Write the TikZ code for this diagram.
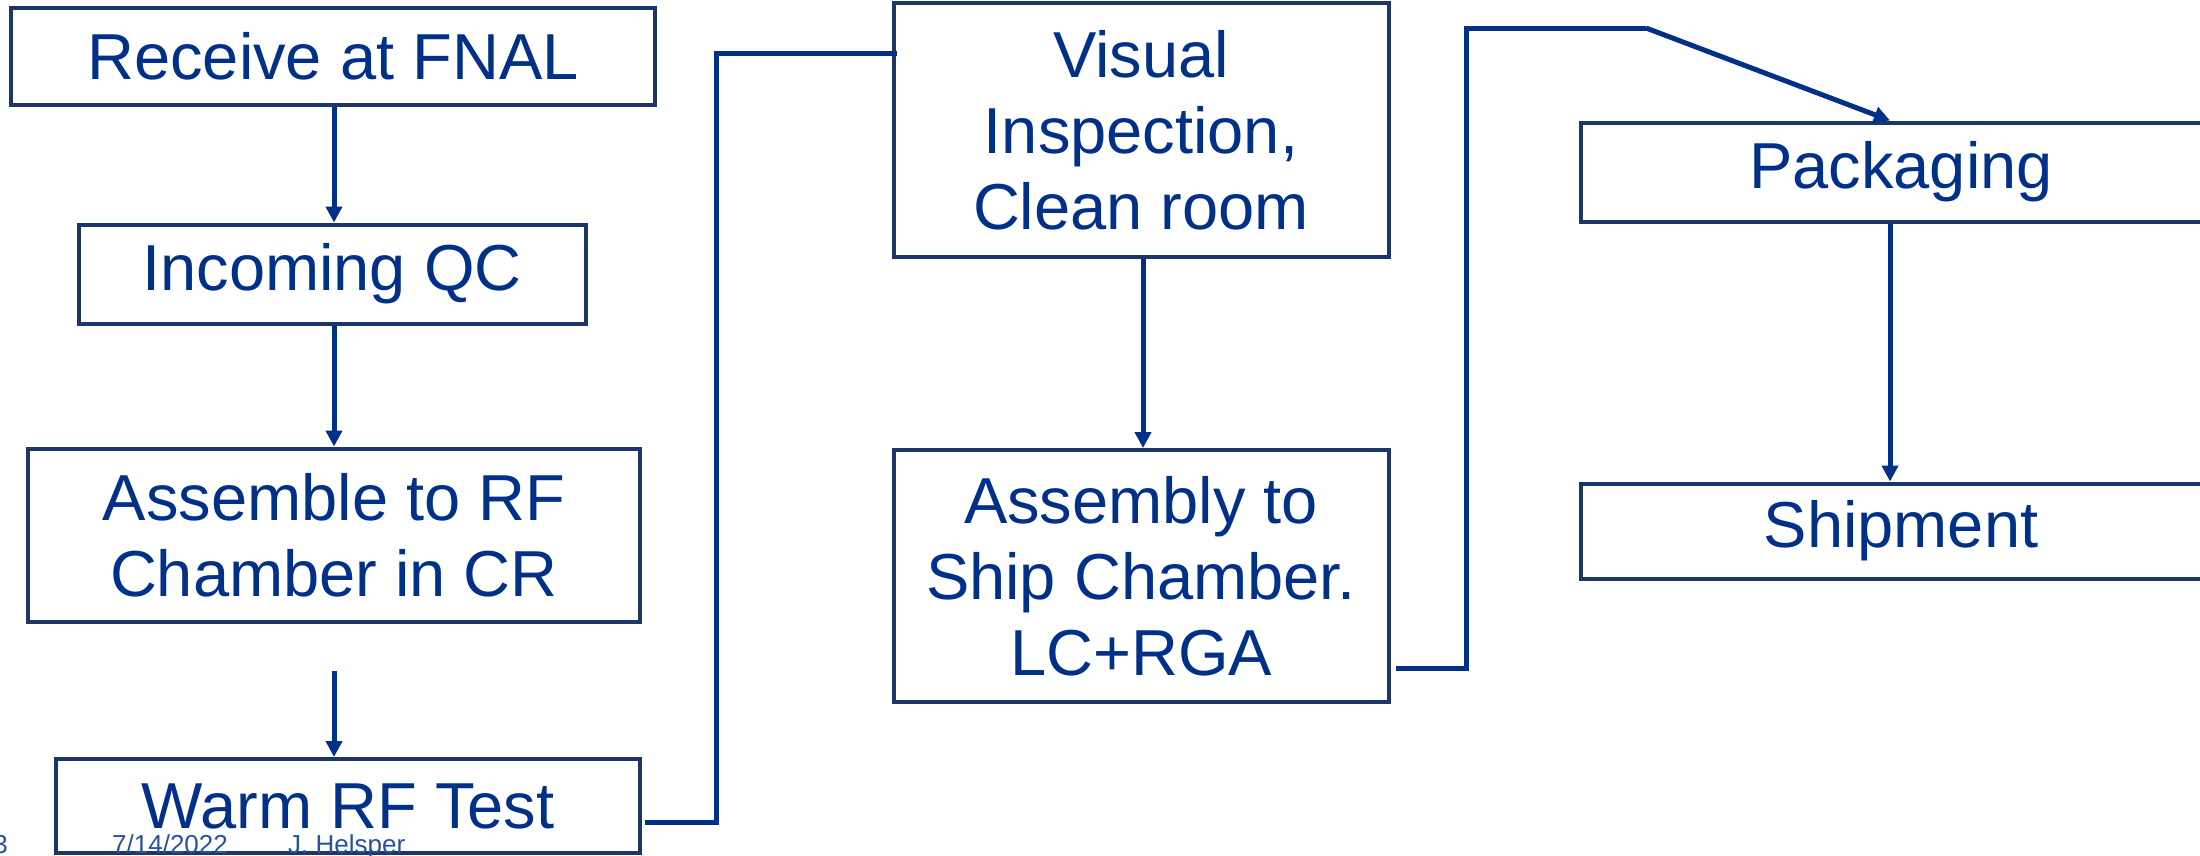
\documentclass[tikz,border=0pt]{standalone}
\usepackage{fontspec}
\setmainfont{Liberation Sans}
\usetikzlibrary{arrows.meta}
\definecolor{txtblue}{RGB}{0,48,135}
\definecolor{boxblue}{RGB}{28,54,104}
\definecolor{footblue}{RGB}{40,80,160}
\begin{document}
\begin{tikzpicture}[x=1pt,y=-1pt,
  stepbox/.style={draw=boxblue,line width=4pt,inner sep=0pt,align=center,
    text=txtblue,font=\fontsize{65}{76}\selectfont},
  conn/.style={draw=txtblue,line width=5pt},
  arr/.style={conn,-{Triangle[length=16pt,width=16pt]}},
  foot/.style={text=footblue,font=\fontsize{26}{30}\selectfont,inner sep=0pt}]
\useasboundingbox (0,0) rectangle (2200,855);
% left column
\node[stepbox,minimum width=644pt,minimum height=97pt] (b1) at (333,56) {Receive at FNAL};
\node[stepbox,minimum width=507pt,minimum height=99pt] (b2) at (332,274) {Incoming QC};
\node[stepbox,minimum width=612pt,minimum height=173pt] (b3) at (334,535) {Assemble to RF\\Chamber in CR};
\node[stepbox,minimum width=584pt,minimum height=94pt] (b4) at (348,806) {Warm RF Test};
% middle column
\node[stepbox,minimum width=495pt,minimum height=254pt] (b5) at (1141,130) {Visual\\Inspection,\\Clean room};
\node[stepbox,minimum width=495pt,minimum height=252pt] (b6) at (1141,576) {Assembly to\\Ship Chamber.\\LC+RGA};
% right column
\node[stepbox,minimum width=640pt,minimum height=99pt] (b7) at (1901,172) {Packaging};
\node[stepbox,minimum width=640pt,minimum height=95pt] (b8) at (1901,531) {Shipment};
% footer
\node[foot,anchor=base east] (pg) at (8,853) {3};
\node[foot,anchor=base west] (dt) at (112,853) {7/14/2022};
\node[foot,anchor=base west] (au) at (288,853) {J. Helsper};
% connectors left column
\coordinate (x1) at (334,0);
\draw[arr] (b1.south -| x1) -- (b2.north -| x1);
\draw[arr] (b2.south -| x1) -- (b3.north -| x1);
\coordinate (s3) at (334,671);
\draw[arr] (s3) -- (s3 |- b4.north);
% Warm RF Test -> Visual Inspection
\coordinate (c1) at (716,822);
\coordinate (c2) at (716,53);
\draw[conn] ([xshift=3pt]b4.east |- c1) -- (c1) -- (c2) -- ([xshift=5pt]c2 -| b5.west);
% middle column
\coordinate (x2) at (1143,0);
\draw[arr] (b5.south -| x2) -- (b6.north -| x2);
% Assembly -> Packaging
\coordinate (d1) at (1466,668);
\coordinate (d2) at (1466,28);
\coordinate (d3) at (1646,28);
\coordinate (x3) at (1890,0);
\draw[conn] ([xshift=5pt]b6.east |- d1) -- (d1) -- (d2) -- (d3);
\draw[arr] (d3) -- (b7.north -| x3);
% right column
\draw[arr] (b7.south -| x3) -- (b8.north -| x3);
\end{tikzpicture}
\end{document}
